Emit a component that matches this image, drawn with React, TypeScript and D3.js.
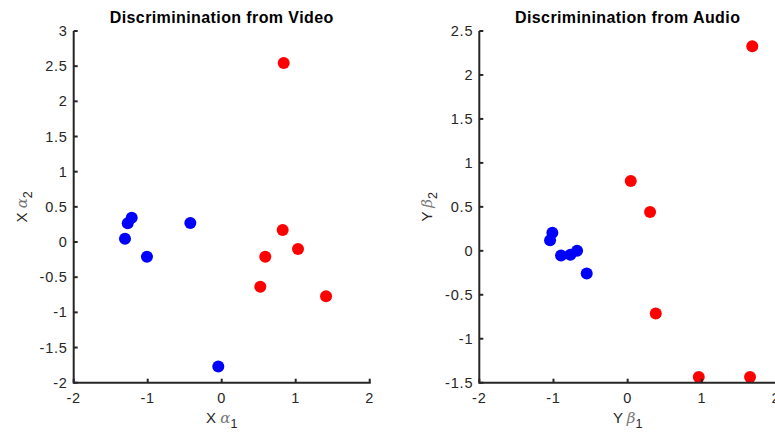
import React from "react";
import * as d3 from "d3";

const videoBlueX = [-1.307, -1.27, -1.216, -1.01, -0.424, -0.046];
const videoBlueY = [0.047, 0.266, 0.346, -0.209, 0.27, -1.77];
const videoRedX = [0.838, 0.824, 1.031, 0.589, 0.522, 1.41];
const videoRedY = [2.545, 0.171, -0.099, -0.209, -0.635, -0.772];

const audioBlueX = [-1.046, -1.015, -0.898, -0.772, -0.682, -0.552];
const audioBlueY = [0.119, 0.205, -0.052, -0.045, 0.001, -0.257];
const audioRedX = [0.042, 0.302, 0.379, 0.959, 1.65, 1.68];
const audioRedY = [0.794, 0.441, -0.712, -1.436, -1.436, 2.326];

const videoXTicks = [-2, -1, 0, 1, 2];
const videoYTicks = [3, 2.5, 2, 1.5, 1, 0.5, 0, -0.5, -1, -1.5, -2];
const audioXTicks = [-2, -1, 0, 1, 2];
const audioYTicks = [2.5, 2, 1.5, 1, 0.5, 0, -0.5, -1, -1.5];

const AX = "#262626";
const FONT = "'Liberation Sans', Arial, Helvetica, sans-serif";

type PanelProps = {
  title: string;
  xDomain: [number, number];
  yDomain: [number, number];
  xRange: [number, number];
  yRange: [number, number];
  xTicks: number[];
  yTicks: number[];
  blueX: number[];
  blueY: number[];
  redX: number[];
  redY: number[];
  labelLetter: string;
  greek: string;
  yLabelX: number;
};

function Panel(p: PanelProps) {
  const x = d3.scaleLinear().domain(p.xDomain).range(p.xRange);
  const y = d3.scaleLinear().domain(p.yDomain).range(p.yRange);
  const x0 = p.xRange[0];
  const x1 = p.xRange[1];
  const yb = p.yRange[0];
  const yt = p.yRange[1];
  const cx = (x0 + x1) / 2;
  const cy = (yb + yt) / 2;
  const fmt = (v: number) => String(v);
  return (
    <g>
      <text x={cx} y={22.5} textAnchor="middle" fontFamily={FONT} fontWeight="bold" fontSize={16} letterSpacing={0.4} fill="#000">
        {p.title}
      </text>
      {p.blueX.map((v, i) => (
        <circle key={"b" + i} cx={x(v)} cy={y(p.blueY[i])} r={6} fill="#0000ff" />
      ))}
      {p.redX.map((v, i) => (
        <circle key={"r" + i} cx={x(v)} cy={y(p.redY[i])} r={6} fill="#ff0000" />
      ))}
      <line x1={x0} x2={x1 + 1} y1={yb} y2={yb} stroke={AX} strokeWidth={2} />
      <line x1={x0} x2={x0} y1={yb + 1} y2={yt} stroke={AX} strokeWidth={2} />
      {p.xTicks.map((t) => (
        <g key={"xt" + t}>
          <line x1={x(t)} x2={x(t)} y1={yb} y2={yb - 4} stroke={AX} strokeWidth={2} />
          <text x={x(t)} y={403} textAnchor="middle" fontFamily={FONT} fontSize={14.5} letterSpacing={0.8} fill={AX}>
            {fmt(t)}
          </text>
        </g>
      ))}
      {p.yTicks.map((t) => (
        <g key={"yt" + t}>
          <line x1={x0} x2={x0 + 4} y1={y(t)} y2={y(t)} stroke={AX} strokeWidth={2} />
          <text x={x0 - 6} y={y(t) + 5} textAnchor="end" fontFamily={FONT} fontSize={14.5} letterSpacing={0.8} fill={AX}>
            {fmt(t)}
          </text>
        </g>
      ))}
      <text x={cx} y={422.5} textAnchor="middle" fontFamily={FONT} fontSize={15} fill={AX}>
        {p.labelLetter + " "}
        <tspan fontFamily="'DejaVu Serif', serif" fontStyle="italic" fill="#777">{p.greek}</tspan>
        <tspan fontSize={12.5} dy={5}>1</tspan>
      </text>
      <text
        transform={`translate(${p.yLabelX},${cy}) rotate(-90)`}
        textAnchor="middle"
        fontFamily={FONT}
        fontSize={15}
        fill={AX}
      >
        {p.labelLetter + " "}
        <tspan fontFamily="'DejaVu Serif', serif" fontStyle="italic" fill="#777">{p.greek}</tspan>
        <tspan fontSize={12.5} dy={5}>2</tspan>
      </text>
    </g>
  );
}

export default function App() {
  return (
    <svg
      width={775}
      height={434}
      style={{ position: "absolute", left: 0, top: 0, background: "#fff" }}
    >
      <rect x={0} y={0} width={775} height={434} fill="#fff" />
      <Panel
        title="Discriminination from Video"
        xDomain={[-2, 2]}
        yDomain={[-2, 3]}
        xRange={[73.7, 369.7]}
        yRange={[382.7, 31]}
        xTicks={videoXTicks}
        yTicks={videoYTicks}
        blueX={videoBlueX}
        blueY={videoBlueY}
        redX={videoRedX}
        redY={videoRedY}
        labelLetter="X"
        greek="α"
        yLabelX={27}
      />
      <Panel
        title="Discriminination from Audio"
        xDomain={[-2, 2]}
        yDomain={[-1.5, 2.5]}
        xRange={[479.3, 776]}
        yRange={[382.7, 31]}
        xTicks={audioXTicks}
        yTicks={audioYTicks}
        blueX={audioBlueX}
        blueY={audioBlueY}
        redX={audioRedX}
        redY={audioRedY}
        labelLetter="Y"
        greek="β"
        yLabelX={432}
      />
    </svg>
  );
}
